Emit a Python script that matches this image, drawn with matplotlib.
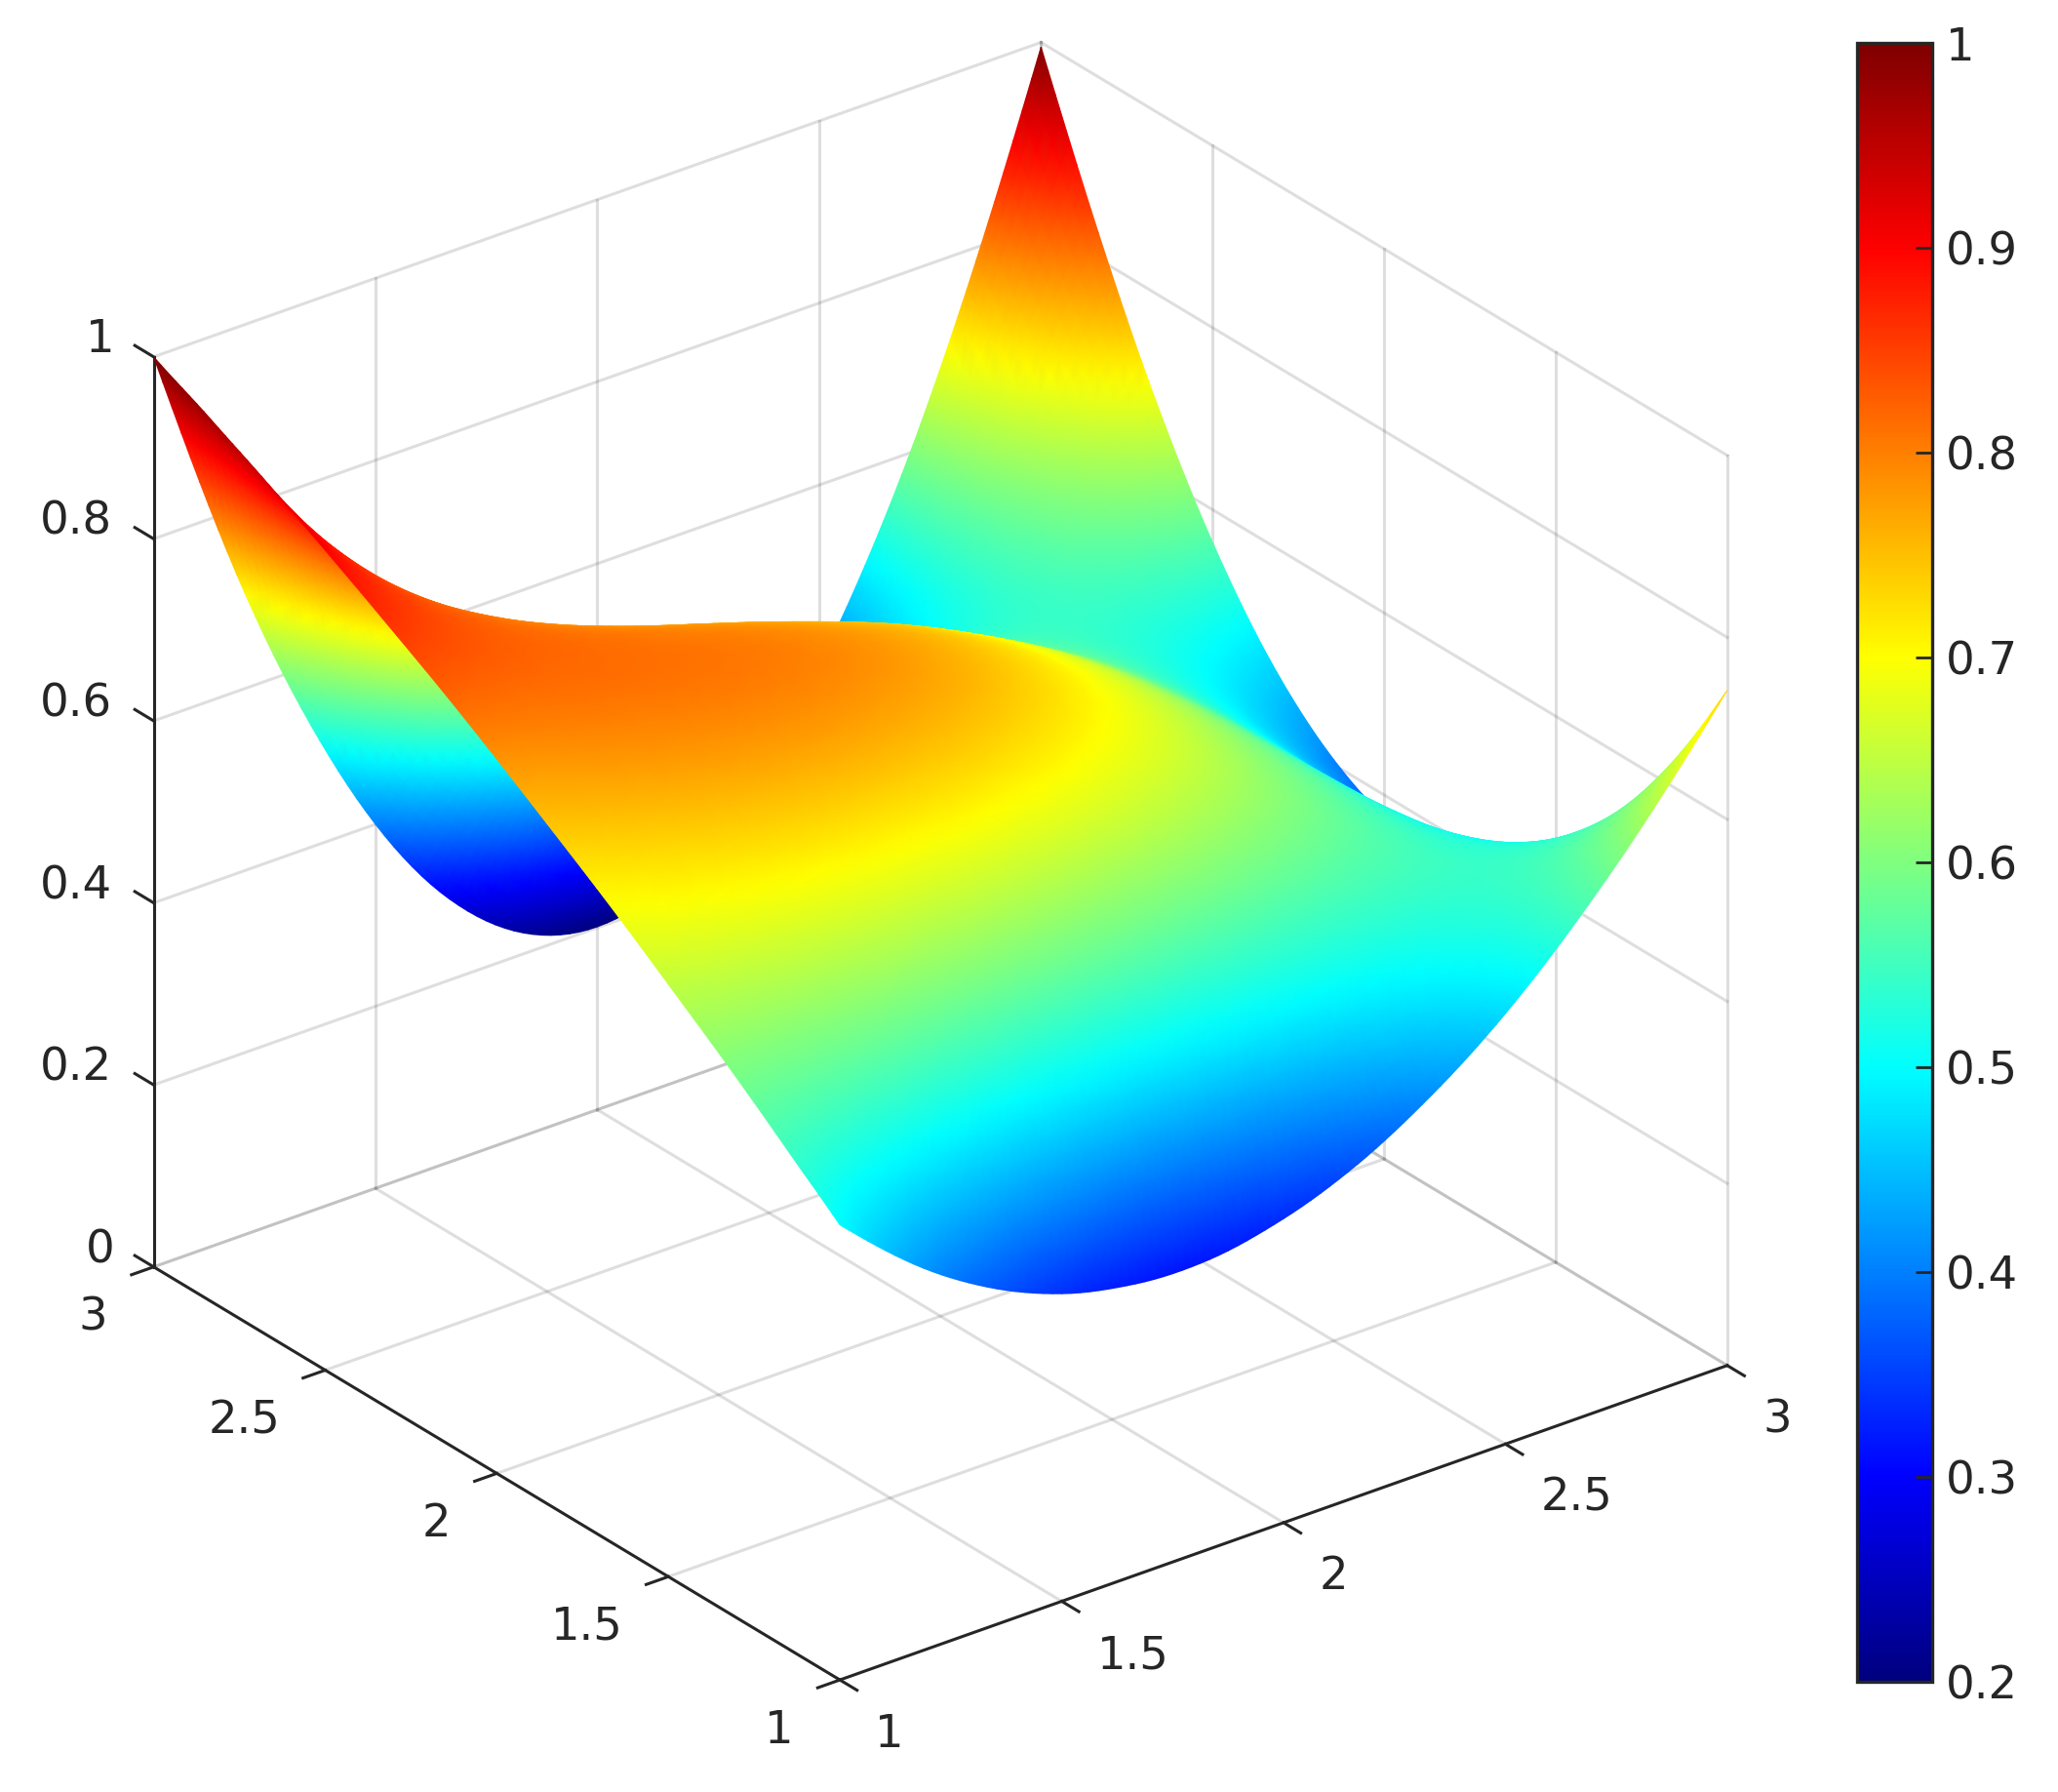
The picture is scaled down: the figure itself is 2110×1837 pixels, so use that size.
import numpy as np
import matplotlib
matplotlib.use('Agg')
import matplotlib.pyplot as plt
from matplotlib.cm import ScalarMappable
from matplotlib.colors import LinearSegmentedColormap, Normalize
from matplotlib.transforms import Affine2D
from matplotlib.tri import Triangulation, UniformTriRefiner
from mpl_toolkits.mplot3d import proj3d

x_ticks = [1, 1.5, 2, 2.5, 3]
y_ticks = [1, 1.5, 2, 2.5, 3]
z_ticks = [0, 0.2, 0.4, 0.6, 0.8, 1]
x_labels = ['1', '1.5', '2', '2.5', '3']
y_labels = ['1', '1.5', '2', '2.5', '3']
z_labels = ['0', '0.2', '0.4', '0.6', '0.8', '1']
cbar_ticks = [0.2, 0.3, 0.4, 0.5, 0.6, 0.7, 0.8, 0.9, 1]
cbar_labels = ['0.2', '0.3', '0.4', '0.5', '0.6', '0.7', '0.8', '0.9', '1']

# surface heights, one row per y, x from 1 to 3
x = [1, 1.1667, 1.3333, 1.5, 1.6667, 1.8333, 2, 2.1667, 2.3333, 2.5, 2.6667, 2.8333, 3]
y = [1, 1.1667, 1.3333, 1.5, 1.6667, 1.8333, 2, 2.1667, 2.3333, 2.5, 2.6667, 2.8333, 3]
z_00 = [0.500, 0.428, 0.374, 0.338, 0.320, 0.318, 0.334, 0.365, 0.412, 0.473, 0.550, 0.640, 0.742]
z_01 = [0.552, 0.524, 0.502, 0.487, 0.477, 0.473, 0.476, 0.484, 0.499, 0.519, 0.546, 0.579, 0.618]
z_02 = [0.603, 0.603, 0.602, 0.599, 0.595, 0.590, 0.583, 0.575, 0.565, 0.555, 0.542, 0.529, 0.514]
z_03 = [0.651, 0.670, 0.682, 0.687, 0.686, 0.678, 0.664, 0.643, 0.615, 0.580, 0.539, 0.492, 0.438]
z_04 = [0.698, 0.725, 0.743, 0.752, 0.750, 0.739, 0.718, 0.688, 0.647, 0.597, 0.538, 0.468, 0.389]
z_05 = [0.742, 0.769, 0.786, 0.792, 0.787, 0.772, 0.746, 0.710, 0.663, 0.605, 0.537, 0.458, 0.368]
z_06 = [0.785, 0.802, 0.810, 0.808, 0.797, 0.777, 0.748, 0.709, 0.661, 0.603, 0.537, 0.461, 0.376]
z_07 = [0.826, 0.823, 0.815, 0.800, 0.780, 0.754, 0.723, 0.685, 0.642, 0.593, 0.538, 0.477, 0.411]
z_08 = [0.864, 0.833, 0.801, 0.768, 0.736, 0.704, 0.671, 0.639, 0.606, 0.573, 0.540, 0.507, 0.473]
z_09 = [0.901, 0.831, 0.768, 0.712, 0.665, 0.625, 0.593, 0.569, 0.553, 0.544, 0.543, 0.550, 0.564]
z_10 = [0.936, 0.817, 0.716, 0.632, 0.567, 0.519, 0.489, 0.477, 0.482, 0.506, 0.547, 0.606, 0.683]
z_11 = [0.969, 0.792, 0.645, 0.528, 0.442, 0.385, 0.358, 0.361, 0.395, 0.458, 0.552, 0.675, 0.829]
z_12 = [1.000, 0.756, 0.556, 0.400, 0.289, 0.223, 0.201, 0.223, 0.290, 0.402, 0.558, 0.758, 0.995]
Z = np.array([z_00, z_01, z_02, z_03, z_04, z_05, z_06, z_07, z_08, z_09, z_10, z_11, z_12])

# matlab jet, corners at eighths
jet = LinearSegmentedColormap.from_list('matlab_jet', [
    (0, (0, 0, 0.5)), (1/8, (0, 0, 1)), (3/8, (0, 1, 1)),
    (5/8, (1, 1, 0)), (7/8, (1, 0, 0)), (1, (0.5, 0, 0))], N=512)

ink = '#262626'
fs = 33.5
W, H = 2110., 1837.
S = 1792.
fig = plt.figure(figsize=(W/100, H/100), dpi=100)
ax = fig.add_axes([44/W, 34/H, S/W, S/H], projection='3d')
ax.set_proj_type('ortho')
ax.set_xlim(1, 3, view_margin=0)
ax.set_ylim(1, 3, view_margin=0)
ax.set_zlim(0, 1, view_margin=0)
ax.set_box_aspect((1147, 1156, 1052), zoom=1.05)
ax.view_init(elev=27.5, azim=-127.5)
ax.set_axis_off()
M = ax.get_proj()

grid = dict(color=ink, alpha=0.15, lw=2.2)
for t in x_ticks:
    ax.plot([t, t], [3, 3], [0, 1], **grid)
    if t > 1:
        ax.plot([t, t], [1, 3], [0, 0], **grid)
for t in y_ticks:
    ax.plot([3, 3], [t, t], [0, 1], **grid)
    if t > 1:
        ax.plot([1, 3], [t, t], [0, 0], **grid)
for t in z_ticks:
    ax.plot([1, 3], [3, 3], [t, t], **grid)
    ax.plot([3, 3], [1, 3], [t, t], **grid)

def tick_label(xv, yv, zv, s, dx, dy):
    # 2d text at the projected tick, shifted by pixels
    px, py, _ = proj3d.proj_transform(xv, yv, zv, M)
    fig.text(px, py, s, transform=ax.transData+Affine2D().translate(dx, dy),
             ha='center', va='center', fontsize=fs, color=ink)

line = dict(color=ink, lw=2.2)
ax.plot([1, 3], [1, 1], [0, 0], **line)
ax.plot([1, 1], [1, 3], [0, 0], **line)
ax.plot([1, 1], [3, 3], [0, 1], **line)
for t, s in zip(x_ticks, x_labels):
    ax.plot([t, t], [1, 0.95], [0, 0], **line)
    tick_label(t, 1, 0, s, 73 if len(s) > 1 else 51, -56)
for t, s in zip(y_ticks, y_labels):
    ax.plot([1, 0.95], [t, t], [0, 0], **line)
    tick_label(1, t, 0, s, -83 if len(s) > 1 else -62, -52)
for t, s in zip(z_ticks, z_labels):
    ax.plot([1, 1], [3, 3.055], [t, t], **line)
    tick_label(1, 3, t, s, -80 if len(s) > 1 else -55, 17)

# library refiner smooths the read grid, then gouraud triangles far to near
X, Y = np.meshgrid(x, y)
n = len(x)
tris = []
for j in range(len(y)-1):
    for i in range(n-1):
        a, b, c, d = j*n+i, j*n+i+1, (j+1)*n+i+1, (j+1)*n+i
        tris += [[a, b, c], [a, c, d]]
tri_fine, z_fine = UniformTriRefiner(Triangulation(X.ravel(), Y.ravel(), tris)).refine_field(Z.ravel(), subdiv=3)
px, py, pz = proj3d.proj_transform(tri_fine.x, tri_fine.y, z_fine, M)
fine = tri_fine.triangles
fine = fine[np.argsort(-pz[fine].mean(axis=1))]
mesh = ax.tripcolor(px, py, fine, z_fine, cmap=jet, vmin=0.2, vmax=1, shading='gouraud')
mesh.set_clip_on(False)
mesh.do_3d_projection = lambda: 0

cax = fig.add_axes([1904/W, 1-1724/H, 77/W, 1680/H])
cbar = fig.colorbar(ScalarMappable(Normalize(0.2, 1), jet), cax=cax, ticks=cbar_ticks)
cbar.ax.set_yticklabels(cbar_labels)
cbar.ax.tick_params(direction='in', length=12, width=2, pad=10, labelsize=fs, color=ink, labelcolor=ink)
cbar.outline.set_edgecolor(ink)
cbar.outline.set_linewidth(2.4)

fig.savefig('out.png', dpi=100)
